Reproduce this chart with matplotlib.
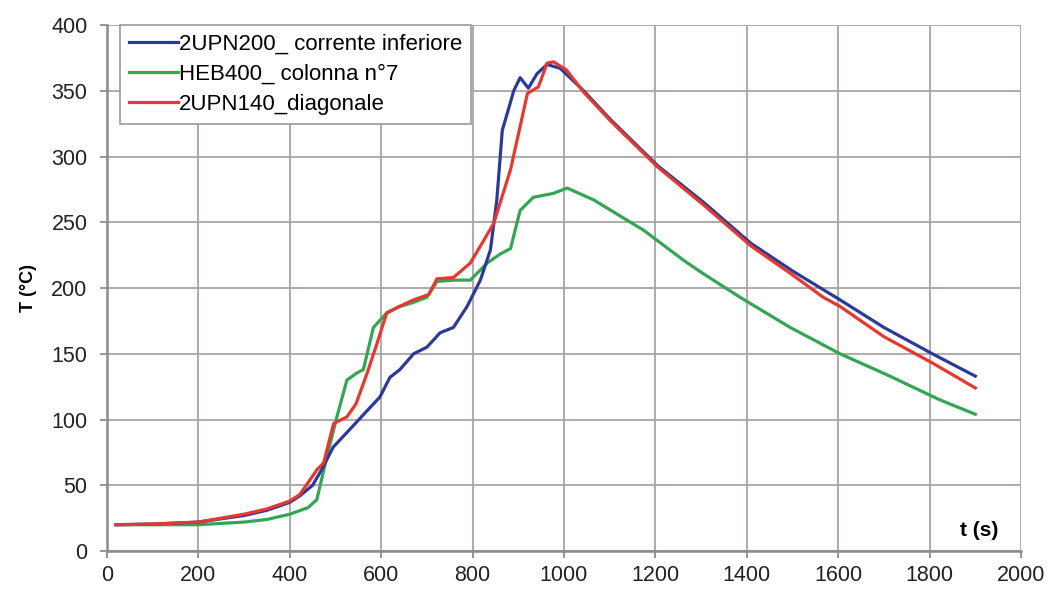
import matplotlib
matplotlib.use('Agg')
import matplotlib.pyplot as plt

plt.rcParams['font.family'] = ['Liberation Sans', 'DejaVu Sans']

# values
t_blue = [20, 100, 200, 300, 350, 400, 422, 450, 470, 495, 530, 570, 597, 619, 641, 671, 700,
          729, 758, 788, 817, 839, 853, 865, 876, 890, 904, 922, 941, 963, 992, 1043, 1102,
          1205, 1306, 1409, 1500, 1604, 1700, 1806, 1900]
T_blue = [20, 20.5, 22, 27, 31, 37, 42, 50, 62, 79, 92, 107, 117, 132, 138, 150, 155,
          166, 170, 186, 206, 229, 267, 320, 333, 350, 360, 352, 363, 370, 367, 350, 328,
          293, 265, 234, 213, 191, 170, 150, 133]

t_green = [20, 100, 200, 300, 350, 400, 440, 459, 470, 480, 503, 525, 545, 561, 583, 612, 641,
           670, 700, 722, 760, 795, 832, 861, 883, 904, 933, 977, 1007, 1065, 1174, 1262,
           1300, 1385, 1495, 1604, 1713, 1822, 1900]
T_green = [20, 20, 20, 22, 24, 28, 33, 39, 55, 70, 102, 130, 135, 138, 170, 181, 186,
           189, 193, 205, 206, 206, 219, 226, 230, 259, 269, 272, 276, 267, 244, 221,
           212, 193, 170, 150, 133, 115, 104]

t_red = [20, 100, 200, 300, 350, 400, 422, 440, 460, 474, 496, 525, 545, 569, 591, 612, 634,
         671, 704, 722, 758, 795, 824, 846, 883, 920, 944, 963, 977, 1005, 1043, 1102, 1205,
         1306, 1409, 1500, 1567, 1604, 1700, 1806, 1900]
T_red = [20, 20.5, 22, 28, 32, 38, 43, 52, 62, 67, 97, 102, 112, 135, 158, 181, 185,
         191, 195, 207, 208, 219, 236, 249, 290, 348, 353, 371, 372, 366, 349, 327, 292,
         263, 232, 210, 193, 186, 163, 143, 124]

labels = ['2UPN200_ corrente inferiore', 'HEB400_ colonna n°7', '2UPN140_diagonale']
x_ticks = list(range(0, 2001, 200))
y_ticks = list(range(0, 401, 50))

fig = plt.figure(figsize=(10.54, 5.93), dpi=100)
ax = fig.add_axes([0.1015, 0.0708, 0.8672, 0.887])

grid_col = '#aaa4a4'
ax.plot(t_blue, T_blue, color='#2b3a9a', lw=2.3, label=labels[0], zorder=3)
ax.plot(t_green, T_green, color='#33a654', lw=2.3, label=labels[1], zorder=2)
ax.plot(t_red, T_red, color='#e5382e', lw=2.3, label=labels[2], zorder=4)

ax.set_xlim(0, 2000)
ax.set_ylim(0, 400)
ax.set_xticks(x_ticks)
ax.set_yticks(y_ticks)
ax.grid(True, color=grid_col, lw=1.3)
ax.set_axisbelow(True)
for s in ['top', 'right']:
    ax.spines[s].set_visible(False)
for s in ['left', 'bottom']:
    ax.spines[s].set_color('#8c8c8c')
    ax.spines[s].set_linewidth(1.8)
ax.tick_params(direction='out', length=5, width=1.3, color='#8c8c8c',
               labelsize=15.5, labelcolor='#222222')
ax.tick_params(axis='y', pad=9)
ax.tick_params(axis='x', pad=5)

ax.set_ylabel('T (°C)', fontsize=13, fontweight='bold', labelpad=10)
ax.text(0.975, 0.02, 't (s)', transform=ax.transAxes, fontsize=15,
        fontweight='bold', ha='right', va='bottom')

leg = ax.legend(loc='upper left', bbox_to_anchor=(0.014, 1.0), borderaxespad=0,
                fontsize=16, handlelength=2.2, handletextpad=0.05, labelspacing=0.4,
                fancybox=False, framealpha=1, edgecolor='#999999', borderpad=0.4)
leg.get_frame().set_linewidth(1.2)

fig.savefig('out.png', dpi=100)
